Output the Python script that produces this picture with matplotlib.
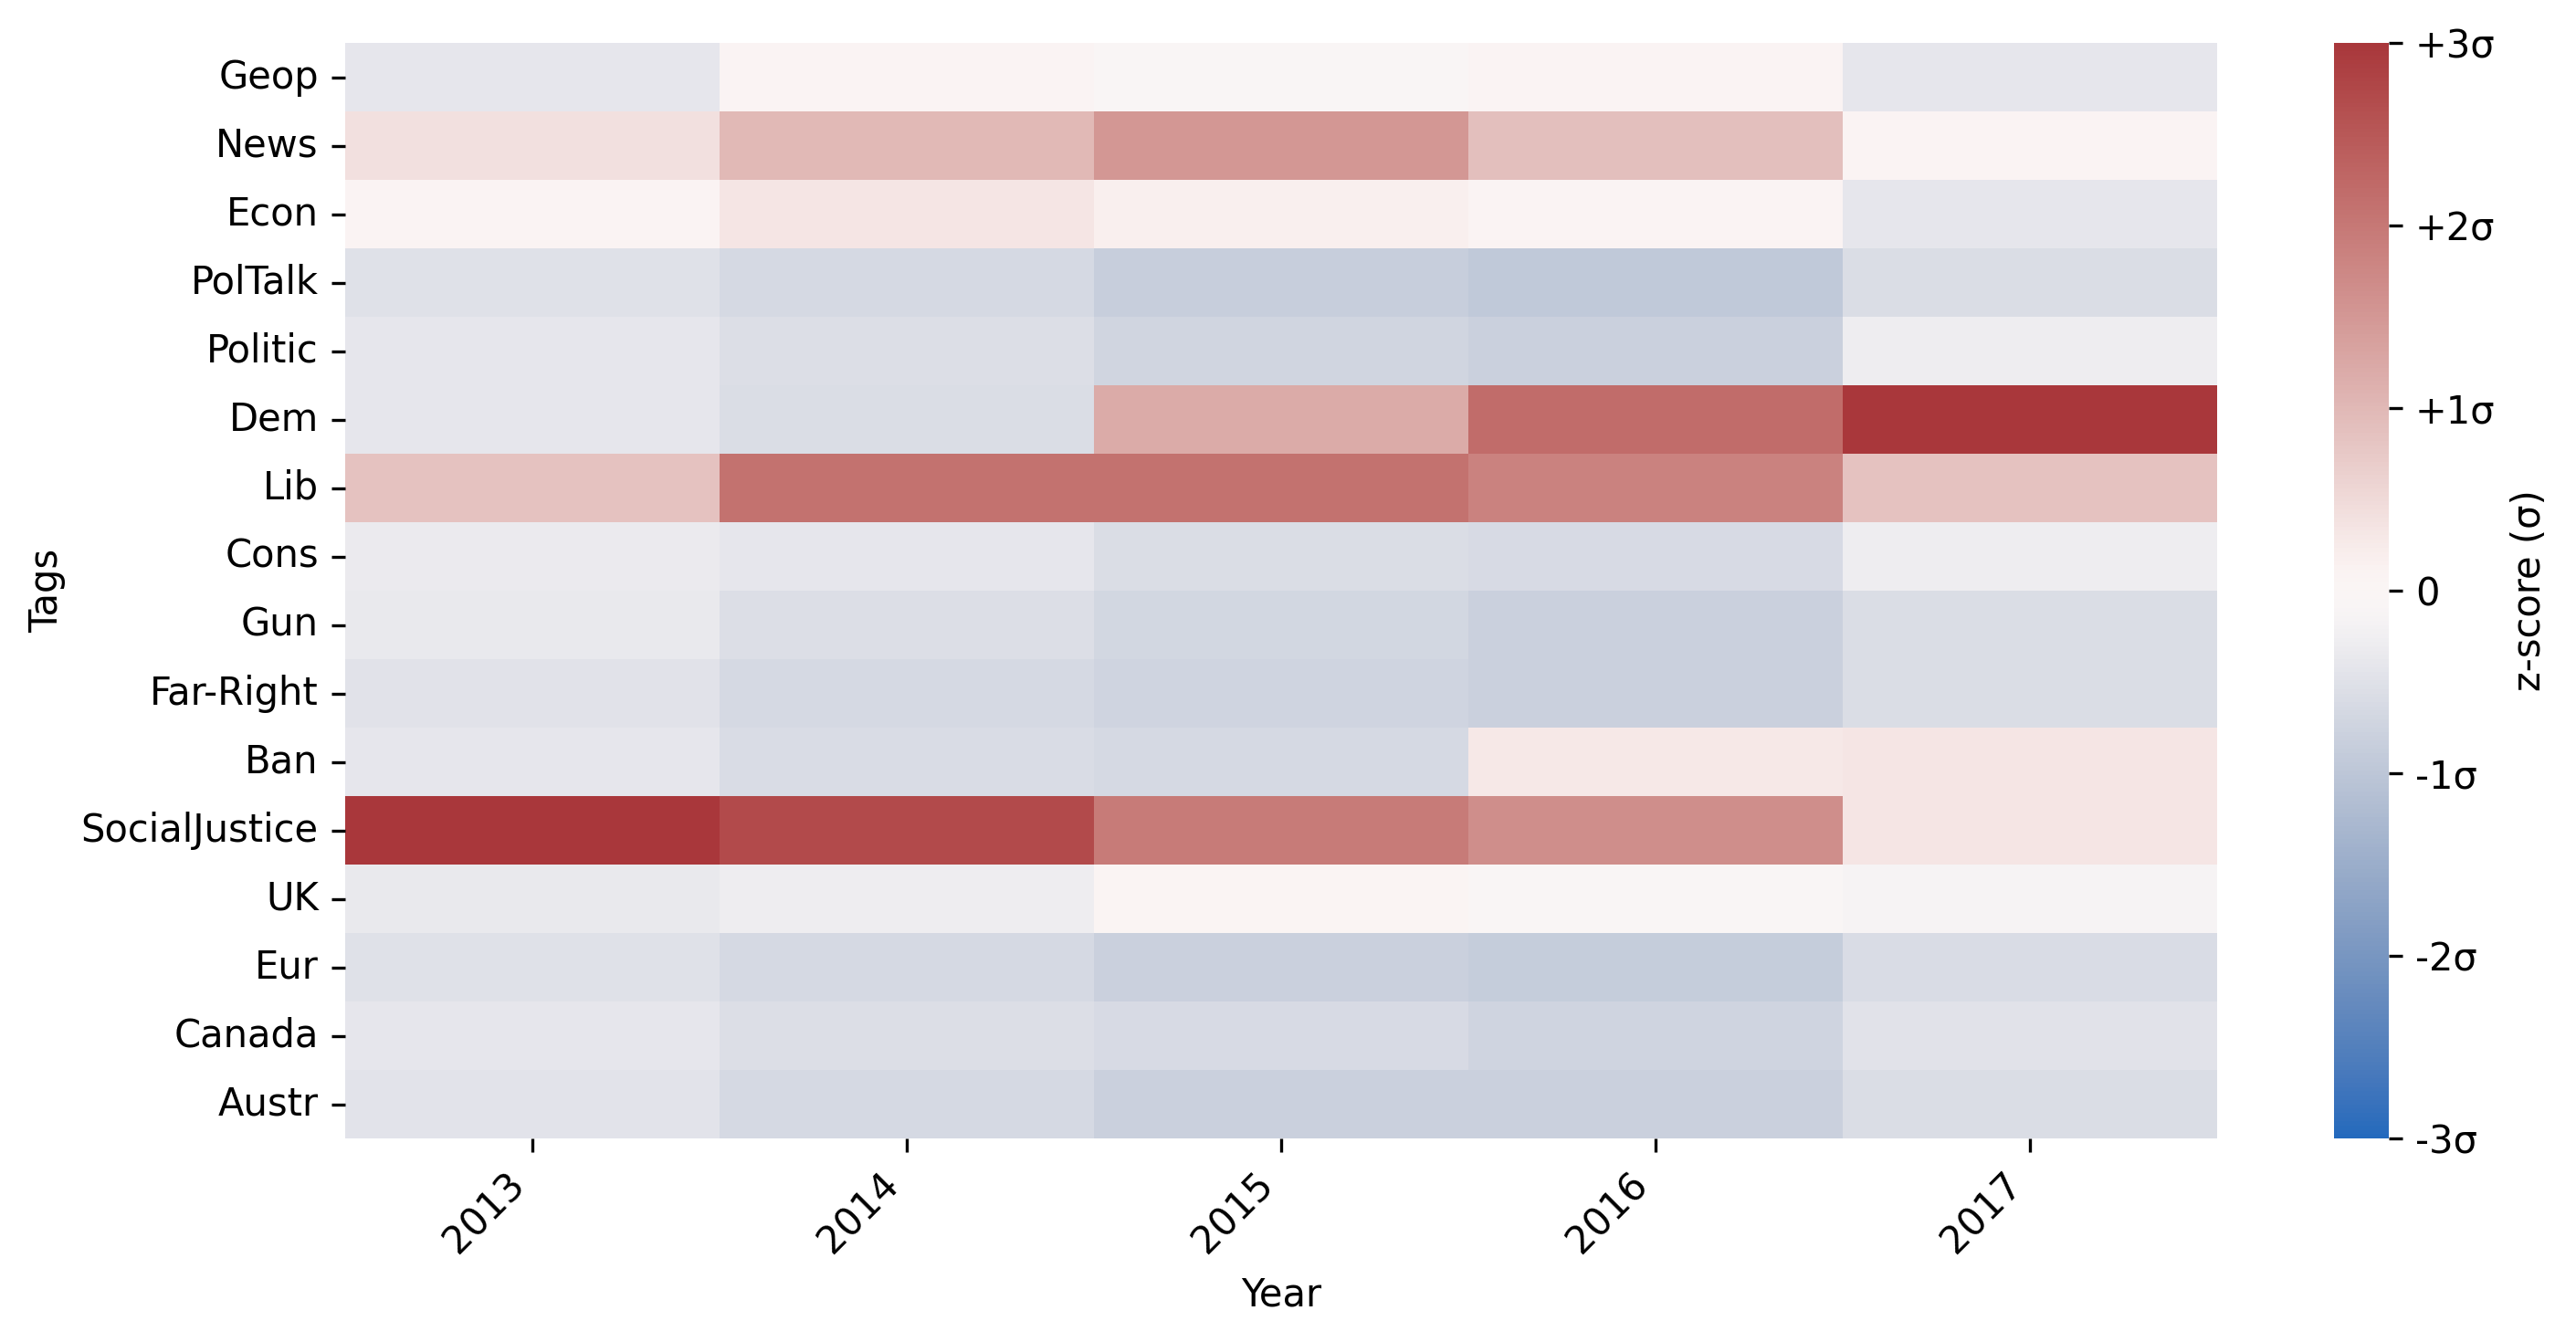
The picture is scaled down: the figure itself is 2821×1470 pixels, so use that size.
import numpy as np
import pandas as pd
import seaborn as sns
import matplotlib
matplotlib.use("Agg")
import matplotlib.pyplot as plt

years = ["2013", "2014", "2015", "2016", "2017"]
tags = ["Geop", "News", "Econ", "PolTalk", "Politic", "Dem", "Lib", "Cons", "Gun",
        "Far-Right", "Ban", "SocialJustice", "UK", "Eur", "Canada", "Austr"]

# z-scores per tag, one list per year
z_2013 = [-0.42, 0.40, 0.08, -0.50, -0.42, -0.42, 0.85, -0.35, -0.37,
          -0.48, -0.42, 3.00, -0.37, -0.50, -0.42, -0.45]
z_2014 = [0.08, 1.00, 0.35, -0.65, -0.55, -0.58, 2.10, -0.40, -0.55,
          -0.65, -0.60, 2.70, -0.30, -0.65, -0.56, -0.65]
z_2015 = [-0.05, 1.50, 0.18, -0.85, -0.72, 1.20, 2.10, -0.58, -0.68,
          -0.75, -0.65, 1.95, 0.05, -0.82, -0.62, -0.82]
z_2016 = [0.08, 0.90, 0.08, -0.95, -0.80, 2.20, 1.85, -0.62, -0.80,
          -0.80, 0.30, 1.65, -0.05, -0.88, -0.75, -0.82]
z_2017 = [-0.40, 0.08, -0.40, -0.58, -0.30, 3.00, 0.85, -0.30, -0.58,
          -0.58, 0.33, 0.33, -0.15, -0.60, -0.48, -0.58]

cbar_ticks = [-3, -2, -1, 0, 1, 2, 3]
cbar_labels = ["-3σ", "-2σ", "-1σ", "0", "+1σ", "+2σ", "+3σ"]

df = pd.DataFrame({"2013": z_2013, "2014": z_2014, "2015": z_2015,
                   "2016": z_2016, "2017": z_2017}, index=tags)[years]

plt.rcParams["font.size"] = 10
fig = plt.figure(figsize=(2821 / 300, 1470 / 300), dpi=300)
ax = fig.add_axes([0.134, 0.1517, 0.7267, 0.8163])
cax = fig.add_axes([0.906, 0.1517, 0.0213, 0.8163])

sns.heatmap(df, ax=ax, cbar_ax=cax, cmap="vlag", vmin=-3, vmax=3,
            cbar_kws={"label": "z-score (σ)", "ticks": cbar_ticks})
cax.set_yticklabels(cbar_labels)
ax.set_xlabel("Year")
ax.set_ylabel("Tags")
ax.set_xticklabels(years, rotation=45, ha="right")
ax.set_yticklabels(tags, rotation=0)

fig.savefig("out.png", dpi=300)
